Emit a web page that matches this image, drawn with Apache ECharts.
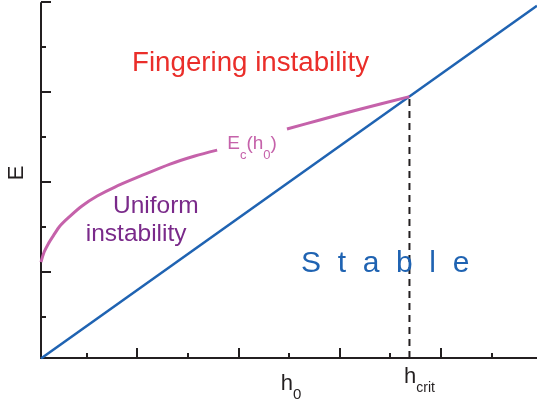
<!DOCTYPE html>
<html>
<head>
<meta charset="utf-8">
<script src="https://cdn.jsdelivr.net/npm/echarts@6/dist/echarts.min.js"></script>
<style>
  html, body { margin: 0; padding: 0; background: #ffffff; }
  #chart { width: 537px; height: 407px; }
</style>
</head>
<body>
<div id="chart"></div>
<script>
// Stability boundary: below this line the film is stable
const stableH = [0.1, 9.9];
const stableE = [0.08, 7.92];

// Critical energy E_c(h0); the null entry leaves room for its label
const criticalH = [0.10, 0.16, 0.24, 0.34, 0.47, 0.67, 0.91, 1.21, 1.56, 2.06, 2.65, 3.14, 3.58, null, 4.96, 5.61, 6.40, 7.38];
const criticalE = [2.22, 2.44, 2.62, 2.80, 3.02, 3.24, 3.47, 3.69, 3.89, 4.13, 4.40, 4.58, 4.71, null, 5.18, 5.38, 5.62, 5.90];

// Critical thickness where both curves meet
const hCrit = 7.38;
const eCrit = 5.90;

// Axis ranges
const hRange = [0.1, 9.9];
const eRange = [0.09, 7.98];

const FONT = 'Liberation Sans, Arial, Helvetica, sans-serif';
const INK = '#231f20';
const BLUE = '#1f63b2';
const PINK = '#c562aa';
const RED = '#ea2e2a';
const PURPLE = '#7a2a8a';

// pixel scale of one h unit / one E unit and the plot origin
const PX_H = 50.6, PX_E = 45, X0 = 36, Y0 = 362;

function pairs(xs, ys) {
  return xs.map((x, i) => (x === null || ys[i] === null) ? ['-', '-'] : [x, ys[i]]);
}

// main text plus a subscript; the subscript's taller line box pushes it down
const subRich = (main, sub, color, subLine) => ({
  m: { fontSize: main, lineHeight: main + 2, verticalAlign: 'top', color: color, fontFamily: FONT },
  s: { fontSize: sub, lineHeight: subLine, verticalAlign: 'bottom', color: color, fontFamily: FONT }
});

const hidden = { axisLine: { show: false, onZero: false }, axisLabel: { show: false }, splitLine: { show: false } };
const tick = (len) => ({ show: true, inside: true, length: len, lineStyle: { color: INK, width: 2 } });

const chart = echarts.init(document.getElementById('chart'), null, { renderer: 'canvas' });

const gridBase = { containLabel: false, outerBoundsMode: 'none' };

const option = {
  animation: false,
  backgroundColor: '#ffffff',
  grid: [
    Object.assign({ left: 41, top: 3, width: 496, height: 355 }, gridBase),
    // major ticks
    Object.assign({ left: X0 + 2 * PX_H, top: Y0 - 8 * PX_E, width: 6 * PX_H, height: 6 * PX_E }, gridBase),
    // minor ticks
    Object.assign({ left: X0 + PX_H, top: Y0 - 7 * PX_E, width: 8 * PX_H, height: 6 * PX_E }, gridBase)
  ],
  xAxis: [
    {
      type: 'value', gridIndex: 0, min: hRange[0], max: hRange[1],
      axisLine: { show: true, onZero: false, lineStyle: { color: INK, width: 2 } },
      axisTick: { show: false }, axisLabel: { show: false }, splitLine: { show: false },
      name: '{m|h}{s|0}', nameLocation: 'middle', nameGap: 15,
      nameTextStyle: { rich: subRich(22, 15, INK, 29), padding: [0, 0, 0, 4] }
    },
    Object.assign({ type: 'value', gridIndex: 1, min: 0, max: 6, interval: 2, offset: 86, axisTick: tick(10) }, hidden),
    Object.assign({ type: 'value', gridIndex: 2, min: 0, max: 8, interval: 2, offset: 41, axisTick: tick(5) }, hidden)
  ],
  yAxis: [
    {
      type: 'value', gridIndex: 0, min: eRange[0], max: eRange[1],
      axisLine: { show: true, onZero: false, lineStyle: { color: INK, width: 2 } },
      axisTick: { show: false }, axisLabel: { show: false }, splitLine: { show: false },
      name: 'E', nameLocation: 'middle', nameGap: 13, nameRotate: 90,
      nameTextStyle: { fontSize: 22, color: INK, fontFamily: FONT, padding: [0, 0, 0, 15] }
    },
    Object.assign({ type: 'value', gridIndex: 1, min: 0, max: 6, interval: 2, offset: 96.2, axisTick: tick(10) }, hidden),
    Object.assign({ type: 'value', gridIndex: 2, min: 0, max: 6, interval: 2, offset: 45.6, axisTick: tick(5) }, hidden)
  ],
  series: [
    {
      name: 'Stable boundary', type: 'line', xAxisIndex: 0, yAxisIndex: 0,
      data: pairs(stableH, stableE), symbol: 'none',
      lineStyle: { color: BLUE, width: 2.6 }, z: 3
    },
    {
      name: 'E_c(h0)', type: 'line', xAxisIndex: 0, yAxisIndex: 0,
      data: pairs(criticalH, criticalE), symbol: 'none', smooth: 0.3,
      connectNulls: false,
      lineStyle: { color: PINK, width: 3, join: 'round' }, z: 4
    },
    {
      name: 'h_crit', type: 'line', xAxisIndex: 0, yAxisIndex: 0,
      data: [
        {
          value: [hCrit, eRange[0]],
          label: {
            show: true, position: 'bottom', distance: 8, offset: [10, 0],
            formatter: '{m|h}{s|crit}', rich: subRich(22, 14, INK, 29)
          }
        },
        [hCrit, eCrit]
      ],
      symbol: 'circle', symbolSize: 0, showSymbol: true,
      itemStyle: { color: 'rgba(0,0,0,0)' },
      lineStyle: { color: INK, width: 2, type: [7, 5] }, z: 2
    },
    {
      name: 'notes', type: 'scatter', xAxisIndex: 0, yAxisIndex: 0,
      symbolSize: 1, itemStyle: { color: 'rgba(0,0,0,0)', opacity: 1 }, silent: true,
      label: { show: true, position: 'inside', fontFamily: FONT, opacity: 1 },
      data: [
        { value: [4.24, 6.64], label: { formatter: 'Fingering instability', fontSize: 27.7, color: RED } },
        { value: [2.37, 3.46], label: { formatter: 'Uniform', fontSize: 24.5, color: PURPLE } },
        { value: [1.98, 2.84], label: { formatter: 'instability', fontSize: 24.5, color: PURPLE } },
        { value: [6.90, 2.19], label: { formatter: 'S  t  a  b  l  e', fontSize: 30, color: BLUE } },
        { value: [4.27, 4.75], label: { formatter: '{m|E}{s|c}{m|(h}{s|0}{m|)}', rich: subRich(19, 13, PINK, 28) } }
      ]
    }
  ]
};

chart.setOption(option);
</script>
</body>
</html>
